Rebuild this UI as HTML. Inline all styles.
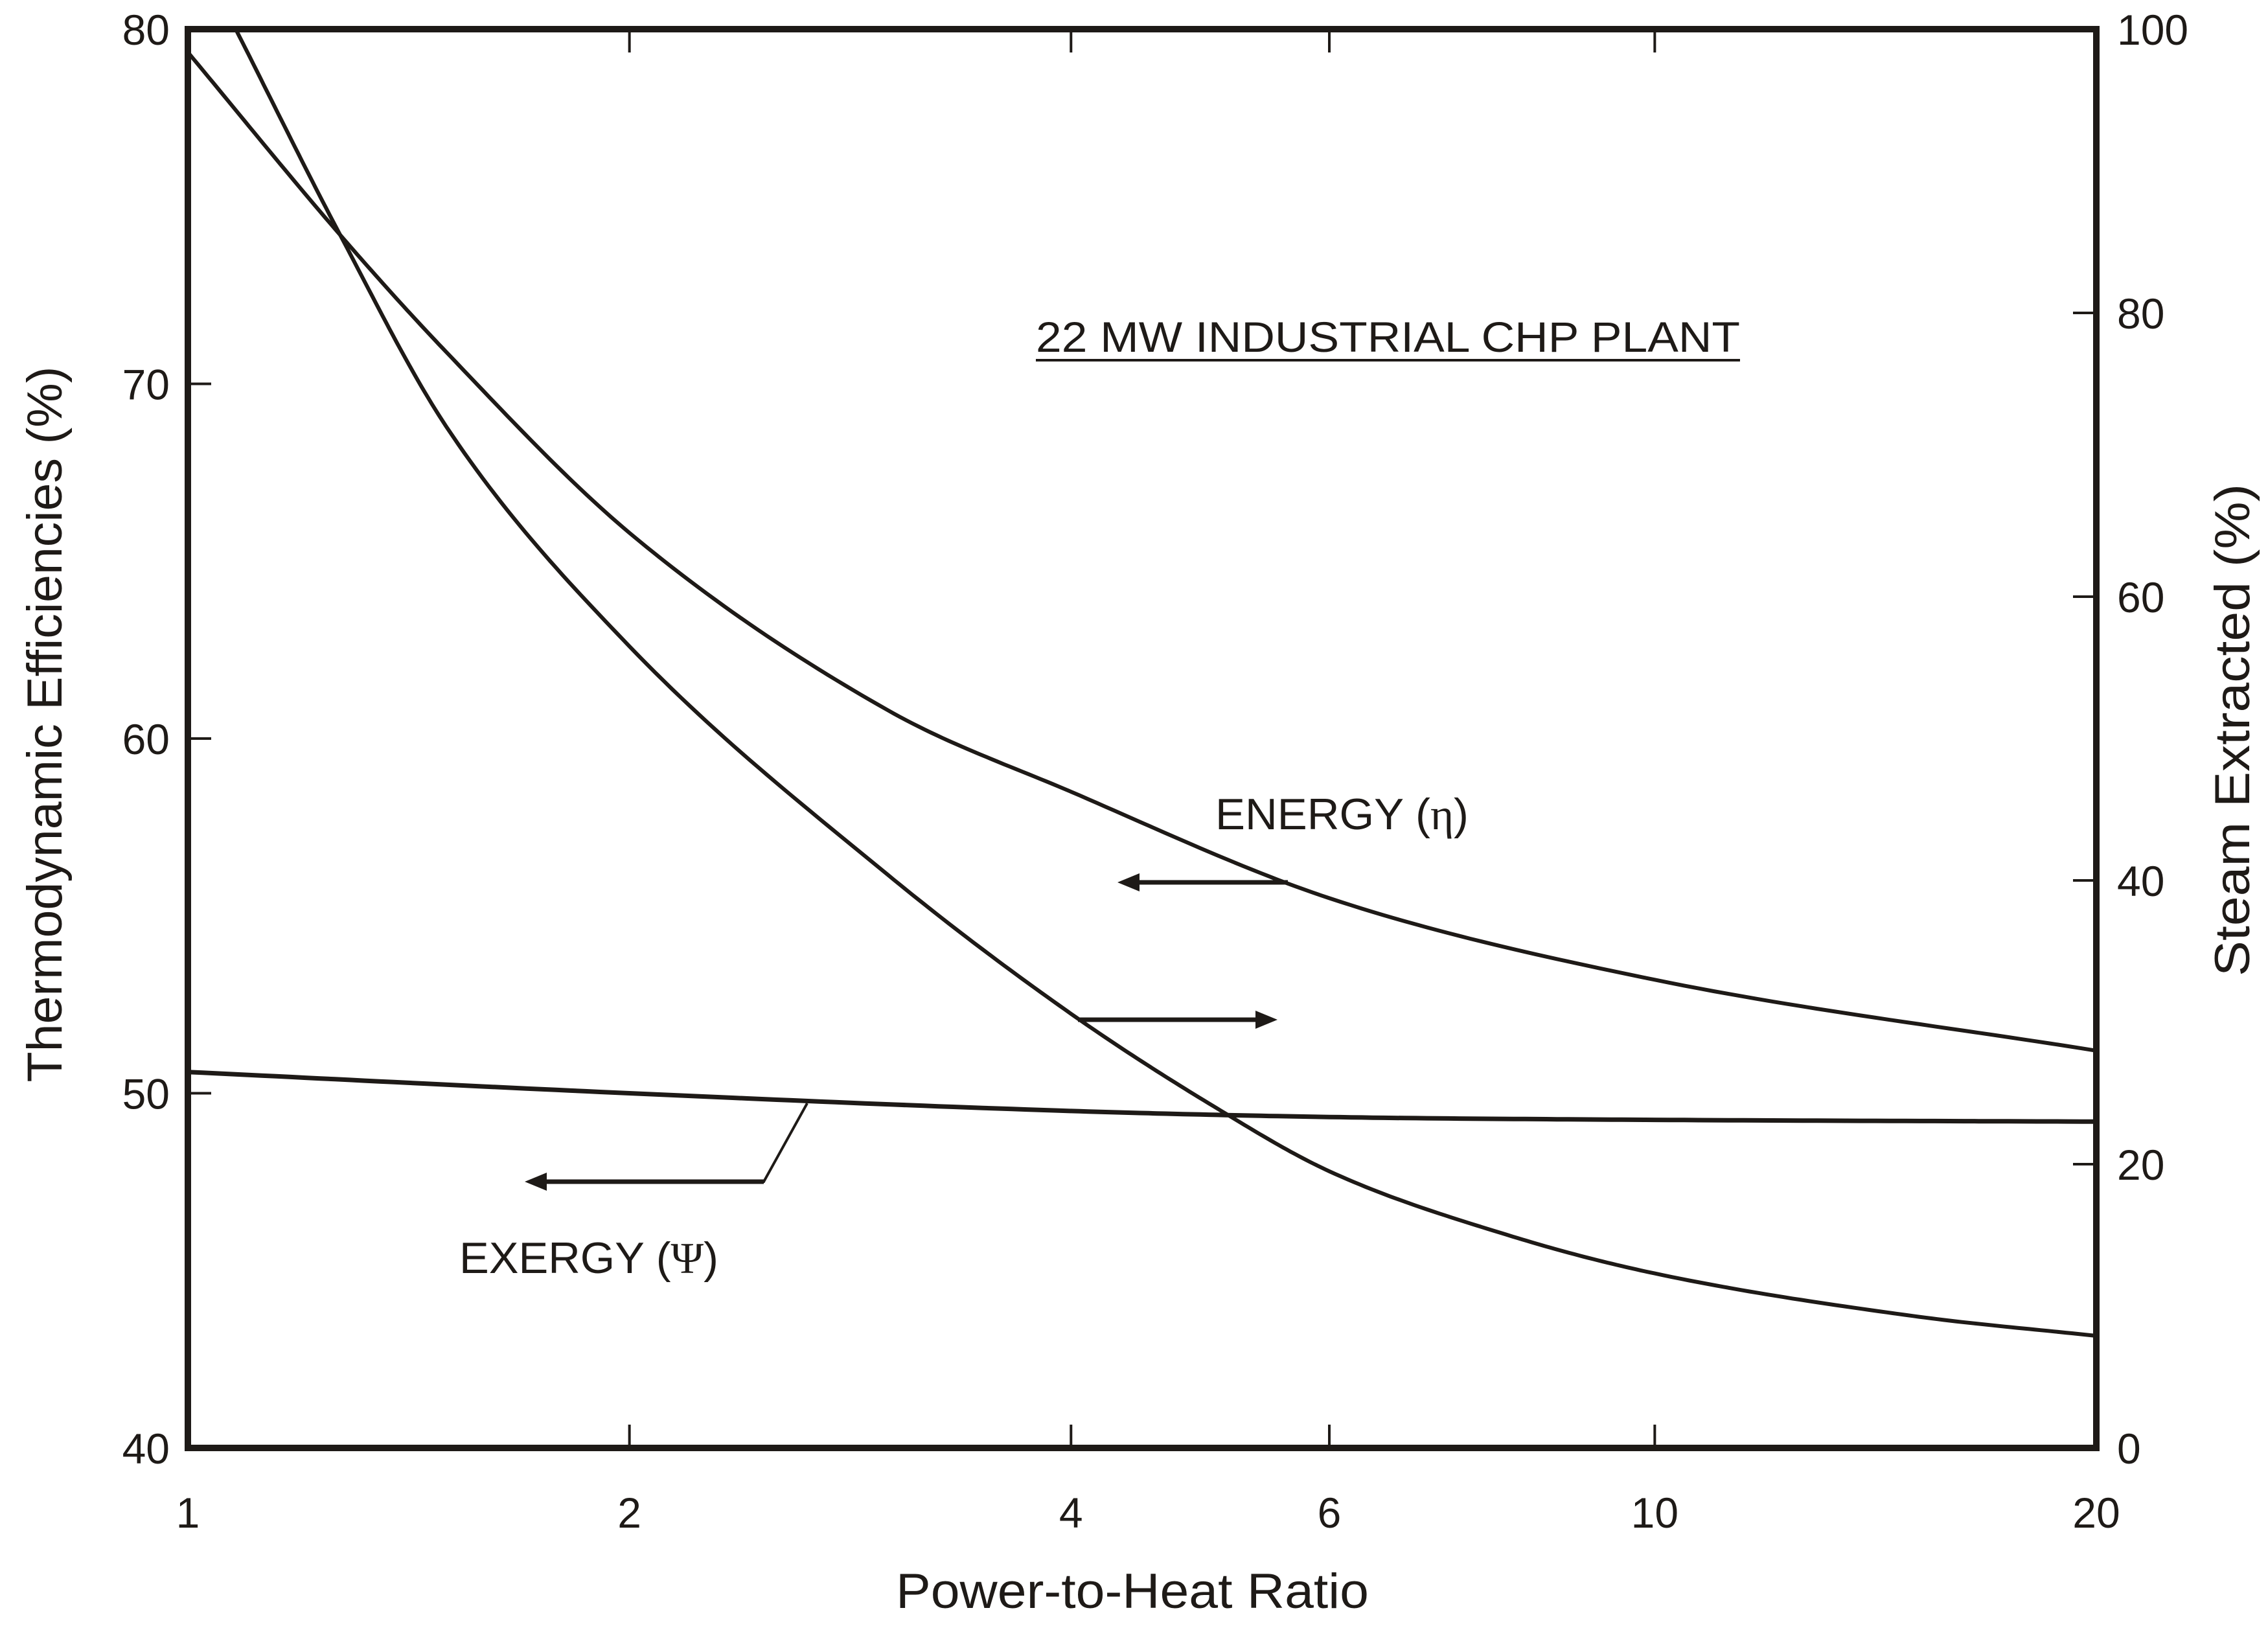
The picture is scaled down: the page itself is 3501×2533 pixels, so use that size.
<!DOCTYPE html>
<html><head><meta charset="utf-8"><style>
html,body{margin:0;padding:0;background:#fff;}
svg{display:block;font-family:"Liberation Sans",Arial,sans-serif;}
</style></head><body>
<svg id="chart" width="3501" height="2533" viewBox="0 0 3501 2533" xmlns="http://www.w3.org/2000/svg">
<rect width="3501" height="2533" fill="#fff"/>
<g id="marks"></g>
<rect x="290" y="45" width="2946" height="2190" fill="none" stroke="#1e1a17" stroke-width="10"/>
<text x="1599" y="543" font-size="66" fill="#1e1a17" textLength="1087" lengthAdjust="spacingAndGlyphs">22 MW  INDUSTRIAL  CHP  PLANT</text>
<line x1="1599" y1="556" x2="2686" y2="556" stroke="#1e1a17" stroke-width="4"/>
<text x="1876" y="1280" font-size="68" fill="#1e1a17" textLength="391" lengthAdjust="spacingAndGlyphs">ENERGY (<tspan font-family="Liberation Serif,serif">η</tspan>)</text>
<text x="709" y="1965" font-size="68" fill="#1e1a17" textLength="400" lengthAdjust="spacingAndGlyphs">EXERGY (<tspan font-family="Liberation Serif,serif">Ψ</tspan>)</text>
<text x="1748" y="2482" font-size="76" text-anchor="middle" fill="#1e1a17" textLength="730" lengthAdjust="spacingAndGlyphs">Power-to-Heat  Ratio</text>
<text transform="translate(95,1118) rotate(-90)" font-size="76" text-anchor="middle" fill="#1e1a17" textLength="1105" lengthAdjust="spacingAndGlyphs">Thermodynamic  Efficiencies  (%)</text>
<text transform="translate(3472,1127) rotate(-90)" font-size="76" text-anchor="middle" fill="#1e1a17" textLength="760" lengthAdjust="spacingAndGlyphs">Steam  Extracted  (%)</text>
</svg>
<script>
const xTicks = [1, 2, 4, 6, 10, 20];
const xTickLabels = ["1", "2", "4", "6", "10", "20"];
const leftTicks = [40, 50, 60, 70, 80];
const rightTicks = [0, 20, 40, 60, 80, 100];
const energyX = [1, 1.27, 1.5, 2, 3, 4, 6, 10, 20];
const energyY = [79.35, 74.2, 70.9, 65.8, 60.8, 58.5, 55.5, 53.2, 51.2];
const steamX = [1.078, 1.27, 1.5, 2, 3, 4, 5, 6, 8, 10, 15, 20];
const steamY = [100, 85.5, 72, 56.5, 40.4, 30.6, 24.1, 19.5, 14.9, 12.3, 9.3, 7.9];
const exergyX = [1, 2, 4, 6, 10, 20];
const exergyY = [50.6, 50.0, 49.5, 49.33, 49.25, 49.2];

const L = 290, R = 3236, T = 45, B = 2235;
const NS = 'http://www.w3.org/2000/svg';
const xs = v => L + Math.log10(v) / Math.log10(20) * (R - L);
const yl = v => B - (v - 40) / 40 * (B - T);
const yr = v => B - v / 100 * (B - T);
const g = document.getElementById('marks');
function mk(tag, attrs) { const e = document.createElementNS(NS, tag); for (const k in attrs) e.setAttribute(k, attrs[k]); g.appendChild(e); return e; }
// monotone cubic (Fritsch-Carlson) in log-x data space
function curvePath(X, Y, ys) {
  const u = X.map(v => Math.log10(v)), n = u.length;
  const d = [], m = new Array(n);
  for (let i = 0; i < n - 1; i++) d.push((Y[i + 1] - Y[i]) / (u[i + 1] - u[i]));
  m[0] = d[0]; m[n - 1] = d[n - 2];
  for (let i = 1; i < n - 1; i++) m[i] = d[i - 1] * d[i] <= 0 ? 0 : (d[i - 1] + d[i]) / 2;
  for (let i = 0; i < n - 1; i++) {
    if (d[i] === 0) { m[i] = m[i + 1] = 0; continue; }
    const a = m[i] / d[i], b = m[i + 1] / d[i], s = a * a + b * b;
    if (s > 9) { const t = 3 / Math.sqrt(s); m[i] = t * a * d[i]; m[i + 1] = t * b * d[i]; }
  }
  let p = '';
  for (let i = 0; i < n - 1; i++) {
    const h = u[i + 1] - u[i];
    for (let k = 0; k <= 30; k++) {
      if (i > 0 && k === 0) continue;
      const t = k / 30, t2 = t * t, t3 = t2 * t;
      const y = (2 * t3 - 3 * t2 + 1) * Y[i] + (t3 - 2 * t2 + t) * h * m[i] + (-2 * t3 + 3 * t2) * Y[i + 1] + (t3 - t2) * h * m[i + 1];
      const xv = Math.pow(10, u[i] + t * h);
      p += (p ? ' L' : 'M') + xs(xv).toFixed(1) + ',' + ys(y).toFixed(1);
    }
  }
  return p;
}
xTicks.forEach((v, i) => {
  const x = xs(v);
  if (v !== 1 && v !== 20) {
    const t1 = mk('line', {x1: x, y1: T, x2: x, y2: T + 36, stroke: '#1e1a17', 'stroke-width': 4});
    
    
    const t2 = mk('line', {x1: x, y1: B, x2: x, y2: B - 36, stroke: '#1e1a17', 'stroke-width': 4});
    
    
  }
  const lb = mk('text', {x: x, y: 2358, 'font-size': 66, 'text-anchor': 'middle', fill: '#1e1a17'});
  lb.textContent = xTickLabels[i];
  
  
});
leftTicks.forEach(v => {
  const y = yl(v);
  if (v !== 40 && v !== 80) {
    const t = mk('line', {x1: L, y1: y, x2: L + 36, y2: y, stroke: '#1e1a17', 'stroke-width': 4});
    
    
  }
  const lb = mk('text', {x: 262, y: y + 24, 'font-size': 66, 'text-anchor': 'end', fill: '#1e1a17'});
  lb.textContent = v;
  
  
});
rightTicks.forEach(v => {
  const y = yr(v);
  if (v !== 0 && v !== 100) {
    const t = mk('line', {x1: R, y1: y, x2: R - 36, y2: y, stroke: '#1e1a17', 'stroke-width': 4});
    
    
  }
  const lb = mk('text', {x: 3268, y: y + 24, 'font-size': 66, fill: '#1e1a17'});
  lb.textContent = v;
  
  
});
const e = mk('path', {d: curvePath(energyX, energyY, yl), fill: 'none', stroke: '#1e1a17', 'stroke-width': 6});


const s = mk('path', {d: curvePath(steamX, steamY, yr), fill: 'none', stroke: '#1e1a17', 'stroke-width': 6});


const ex = mk('path', {d: curvePath(exergyX, exergyY, yl), fill: 'none', stroke: '#1e1a17', 'stroke-width': 7});


function arrow(x1, y, x2, name) {
  const dir = Math.sign(x2 - x1);
  const ln = mk('line', {x1: x1, y1: y, x2: x2 - dir * 20, y2: y, stroke: '#1e1a17', 'stroke-width': 7});
  
  
  const hd = mk('polygon', {points: `${x2},${y} ${x2 - dir * 34},${y - 14} ${x2 - dir * 34},${y + 14}`, fill: '#1e1a17'});
  
  
}
arrow(1988, 1362, 1725, 'energy-arrow');
arrow(1664, 1574, 1972, 'steam-arrow');
const leader = mk('polyline', {points: '1246,1703 1179,1824 830,1824', fill: 'none', stroke: '#1e1a17', 'stroke-width': 4});


arrow(1179, 1824, 810, 'exergy-arrow');
</script>
</body></html>
